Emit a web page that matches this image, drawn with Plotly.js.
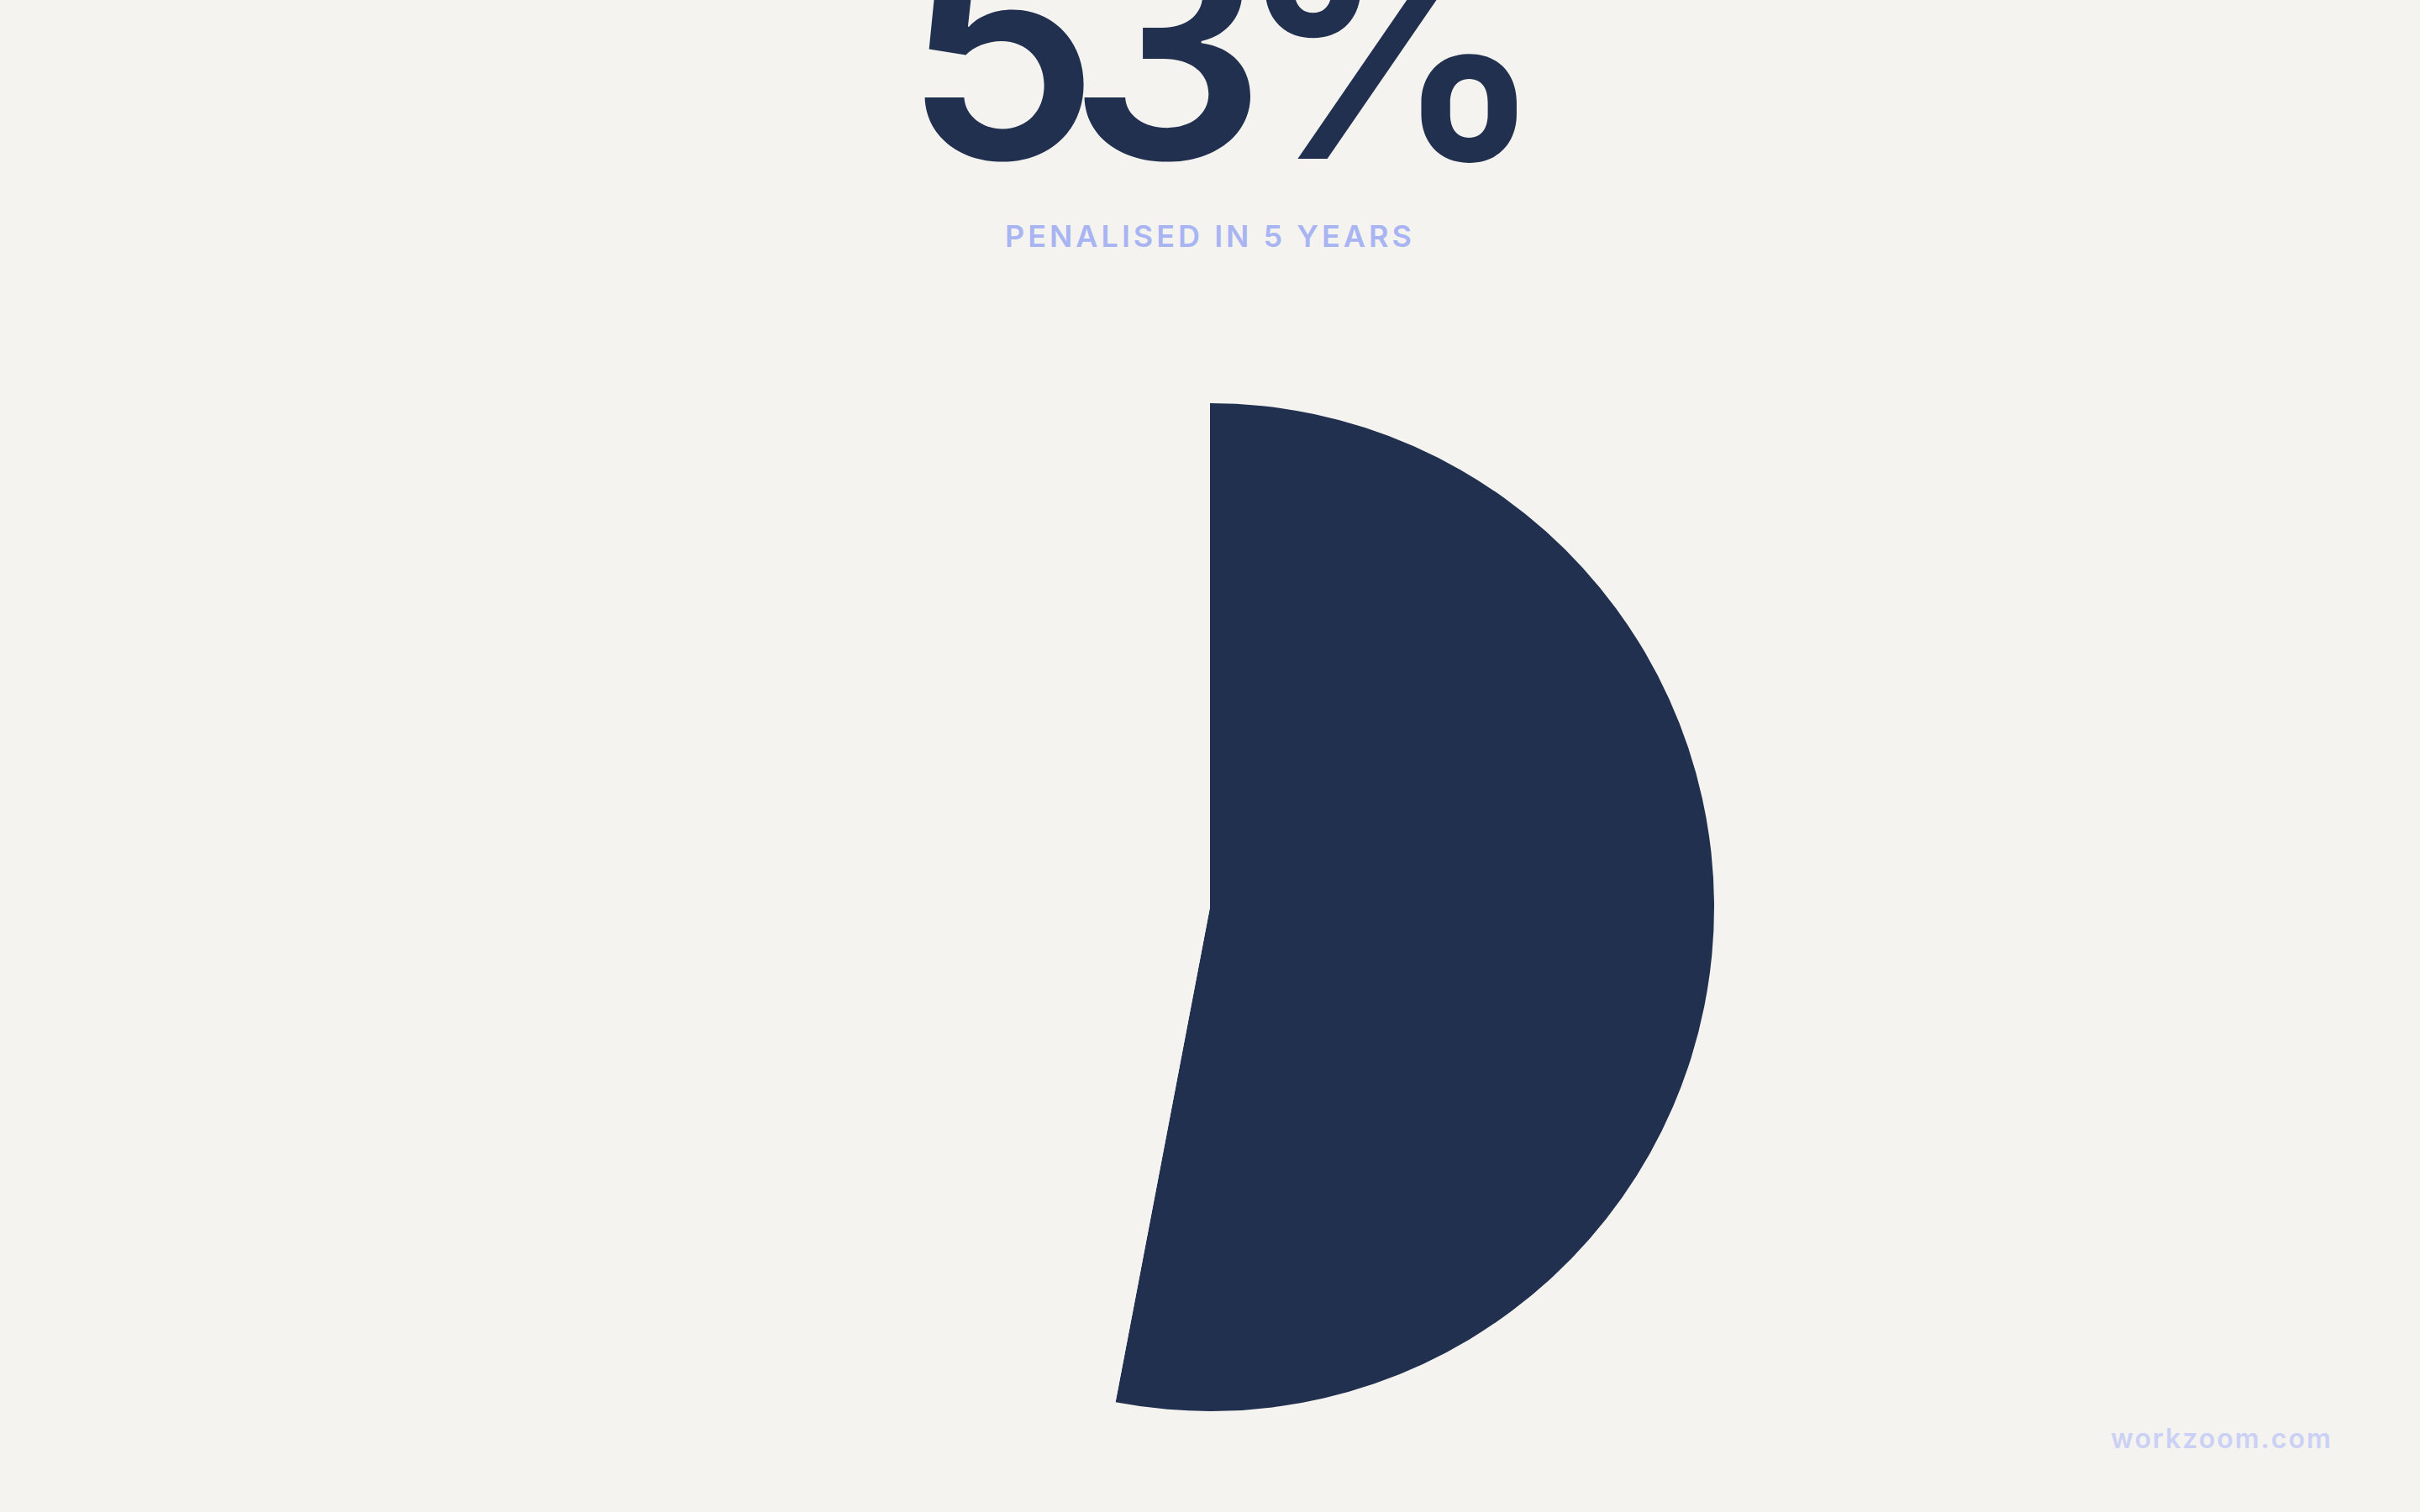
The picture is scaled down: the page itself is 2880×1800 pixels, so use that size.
<!DOCTYPE html>
<html>
<head>
<meta charset="utf-8">
<script src="https://cdn.plot.ly/plotly-3.0.1.min.js"></script>
<style>
  html, body { margin: 0; padding: 0; background: #f4f3ef; }
  #chart { width: 2880px; height: 1800px; }
</style>
</head>
<body>
<div id="chart"></div>
<script>
// ---- data ----
const labels = ['Penalised in 5 years', 'Not penalised'];
const values = [53, 47];
const subtitle = 'PENALISED IN 5 YEARS';
const watermark = 'workzoom.com';

// ---- styles ----
const BG = '#f4f3ef';
const NAVY = '#22304f';

const trace = {
  type: 'pie',
  labels: labels,
  values: values,
  sort: false,
  direction: 'clockwise',
  rotation: 0,
  textinfo: 'none',
  hoverinfo: 'none',
  showlegend: false,
  marker: { colors: [NAVY, BG], line: { width: 0 } },
  domain: { x: [0.29167, 0.70833], y: [0.06667, 0.73333] }
};

const layout = {
  width: 2880,
  height: 1800,
  margin: { l: 0, r: 0, t: 0, b: 0 },
  paper_bgcolor: BG,
  plot_bgcolor: BG,
  showlegend: false,
  annotations: [
    {
      text: values[0] + '%',
      xref: 'paper', yref: 'paper',
      x: 0.5, y: 1.0 - 280 / 1800,
      xanchor: 'center', yanchor: 'bottom',
      showarrow: false,
      font: { family: 'Inter', size: 370, color: NAVY, weight: 600 }
    },
    {
      text: subtitle,
      xref: 'paper', yref: 'paper',
      x: 0.5, y: 1.0 - 281 / 1800,
      xanchor: 'center', yanchor: 'middle',
      showarrow: false,
      font: { family: 'Inter', size: 36, color: '#a9b4f2', weight: 600 }
    },
    {
      text: watermark,
      xref: 'paper', yref: 'paper',
      x: 2766 / 2880, y: 1.0 - 1712 / 1800,
      xanchor: 'right', yanchor: 'middle',
      showarrow: false,
      font: { family: 'Inter', size: 32, color: '#cbd0f5', weight: 600 }
    }
  ]
};

Plotly.newPlot('chart', [trace], layout, { displayModeBar: false, staticPlot: true }).then(function () {
  const texts = document.querySelectorAll('.annotation-text');
  if (texts[0]) texts[0].style.letterSpacing = '-37px';
  if (texts[1]) texts[1].style.letterSpacing = '4px';
  if (texts[2]) texts[2].style.letterSpacing = '2px';
});
</script>
</body>
</html>
